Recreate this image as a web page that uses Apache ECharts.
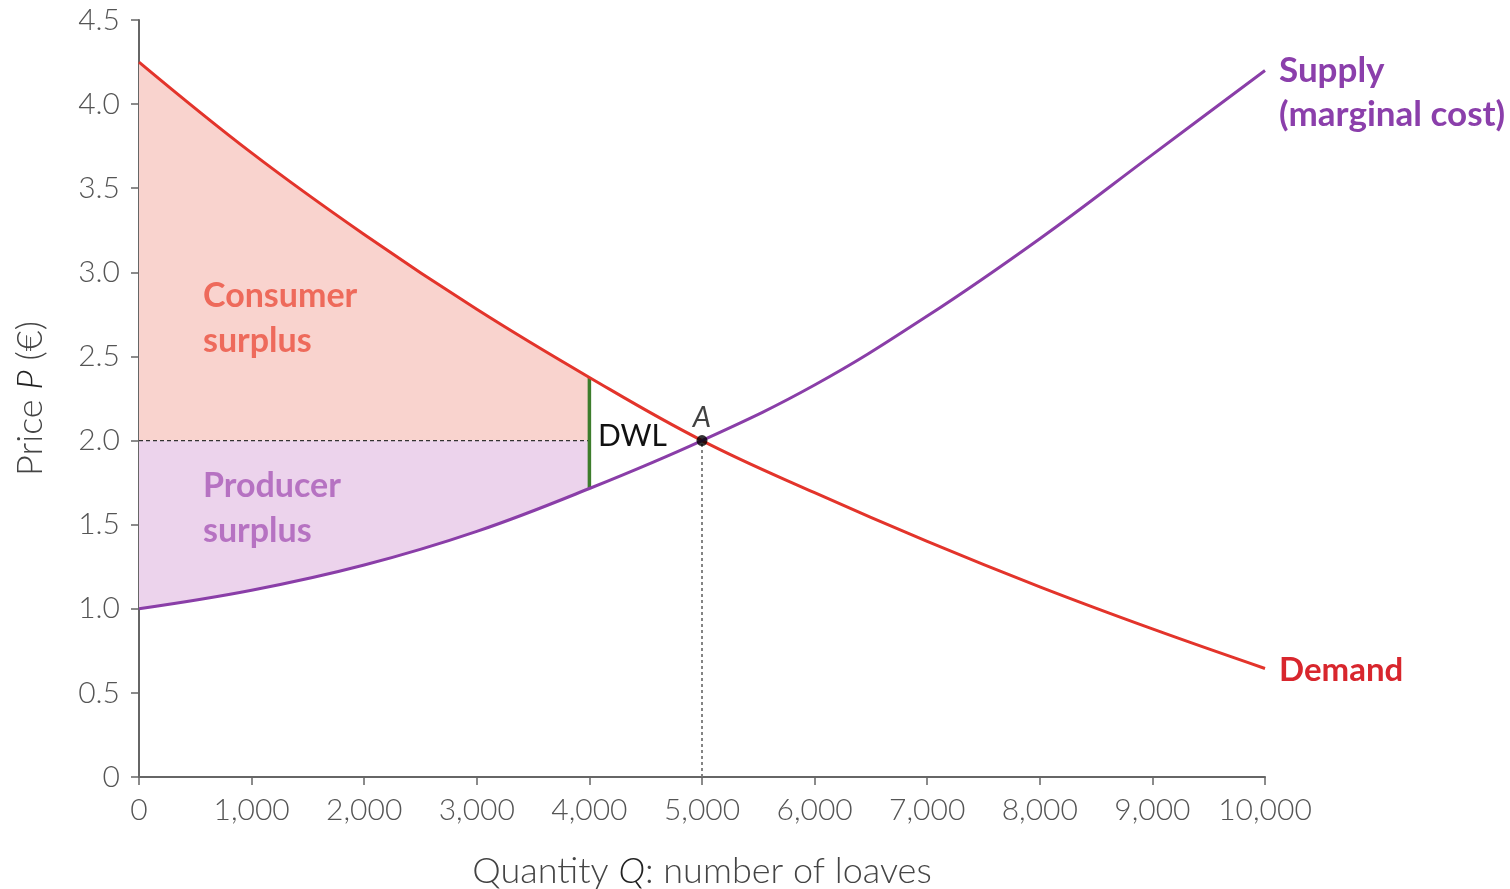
<!DOCTYPE html>
<html>
<head>
<meta charset="utf-8">
<script src="https://cdn.jsdelivr.net/npm/echarts@6/dist/echarts.min.js"></script>
<style>html,body{margin:0;padding:0;background:#fff}#c{width:1510px;height:889px}</style>
</head>
<body>
<div id="c"></div>
<script>
// ---- data ----
const quantities = [0, 1000, 2000, 3000, 4000, 5000, 6000, 7000, 8000, 9000, 10000];
const demandPrice = [4.25, 3.71, 3.225, 2.78, 2.375, 2.0, 1.69, 1.40, 1.13, 0.88, 0.645];
const supplyPrice = [1.0, 1.11, 1.26, 1.46, 1.715, 2.0, 2.33, 2.74, 3.2, 3.7, 4.2];
const marketPrice = 2.0;
const restrictedQ = 4000;
const equilibriumQ = 5000;
const xTicks = [0, 1000, 2000, 3000, 4000, 5000, 6000, 7000, 8000, 9000, 10000];
const yTicks = [0, 0.5, 1.0, 1.5, 2.0, 2.5, 3.0, 3.5, 4.0, 4.5];

const pairs = (xs, ys) => xs.map((x, i) => [x, ys[i]]);
const demandPts = pairs(quantities, demandPrice);
const supplyPts = pairs(quantities, supplyPrice);
const rIdx = quantities.indexOf(restrictedQ);
const demandLeft = demandPts.slice(0, rIdx + 1);
const supplyLeft = supplyPts.slice(0, rIdx + 1);

const RED = '#e3342b', PURPLE = '#8a3ea8', GREEN = '#3d7d2c';
const FONT = 'Lato';

const chart = echarts.init(document.getElementById('c'), null, {renderer: 'canvas'});
const option = {
  animation: false,
  grid: {left: 139, right: 245, top: 20, bottom: 112, containLabel: false, outerBoundsMode: 'none'},
  xAxis: {
    type: 'value', min: xTicks[0], max: xTicks[xTicks.length - 1], interval: 1000,
    name: 'Quantity {i|Q}: number of loaves', nameLocation: 'middle', nameGap: 76,
    nameTextStyle: {fontFamily: FONT, fontSize: 36, color: '#444', fontWeight: 300,
      rich: {i: {fontFamily: FONT, fontSize: 36, fontStyle: 'italic', color: '#222', fontWeight: 300}}},
    axisLine: {show: true, lineStyle: {color: '#666', width: 2}},
    axisTick: {show: true, length: 8, lineStyle: {color: '#666', width: 1.5}},
    axisLabel: {fontFamily: FONT, fontSize: 30, color: '#555', fontWeight: 300, margin: 18,
      formatter: v => v === 0 ? '0' : v.toLocaleString('en-US')},
    splitLine: {show: false}
  },
  yAxis: {
    type: 'value', min: yTicks[0], max: yTicks[yTicks.length - 1], interval: 0.5,
    name: 'Price {i|P} (€)', nameLocation: 'middle', nameGap: 91,
    nameTextStyle: {fontFamily: FONT, fontSize: 36, color: '#444', fontWeight: 300,
      rich: {i: {fontFamily: FONT, fontSize: 36, fontStyle: 'italic', color: '#222', fontWeight: 300}}},
    axisLine: {show: true, lineStyle: {color: '#666', width: 2}},
    axisTick: {show: true, length: 8, lineStyle: {color: '#666', width: 1.5}},
    axisLabel: {fontFamily: FONT, fontSize: 30, color: '#555', fontWeight: 300, margin: 19,
      formatter: v => v === 0 ? '0' : v.toFixed(1)},
    splitLine: {show: false}
  },
  series: [
    {type: 'line', data: demandLeft, smooth: 0.4, symbol: 'none', silent: true,
      lineStyle: {width: 0}, areaStyle: {origin: marketPrice, color: '#f9d3ce', opacity: 1}, z: 1},
    {type: 'line', data: supplyLeft, smooth: 0.4, symbol: 'none', silent: true,
      lineStyle: {width: 0}, areaStyle: {origin: marketPrice, color: '#ecd3ec', opacity: 1}, z: 1},
    {type: 'line', data: [[0, marketPrice], [restrictedQ, marketPrice]], symbol: 'none',
      lineStyle: {color: '#333', width: 1.2, type: [4, 3]}, z: 3},
    {type: 'line', data: [[equilibriumQ, 0], [equilibriumQ, marketPrice]], symbol: 'none',
      lineStyle: {color: '#777', width: 1.8, type: [3, 3]}, z: 3},
    {type: 'line', data: [[restrictedQ, supplyPrice[rIdx]], [restrictedQ, demandPrice[rIdx]]], symbol: 'none',
      lineStyle: {color: GREEN, width: 3.5}, z: 4},
    {type: 'line', data: demandPts, smooth: 0.4, symbol: 'none', lineStyle: {color: RED, width: 3}, z: 5},
    {type: 'line', data: supplyPts, smooth: 0.4, symbol: 'none', lineStyle: {color: PURPLE, width: 3}, z: 5},
    {type: 'scatter', data: [[equilibriumQ, marketPrice]], symbolSize: 11, itemStyle: {color: '#000'}, z: 6,
      label: {show: true, formatter: 'A', position: 'top', distance: 3, fontFamily: FONT, fontSize: 29,
        fontStyle: 'italic', color: '#111'}}
  ],
  graphic: [
    {type: 'text', z: 100, left: 203, top: 274, style: {text: 'Consumer\nsurplus', font: 'bold 34px Lato', fill: '#ee6a5b', lineHeight: 45}},
    {type: 'text', z: 100, left: 203, top: 464, style: {text: 'Producer\nsurplus', font: 'bold 34px Lato', fill: '#b672c2', lineHeight: 45}},
    {type: 'text', z: 100, left: 598, top: 421, style: {text: 'DWL', font: '30px Lato', fill: '#111'}},
    {type: 'text', z: 100, left: 1279, top: 49, style: {text: 'Supply\n(marginal cost)', font: 'bold 35px Lato', fill: '#8b3fab', lineHeight: 44}},
    {type: 'text', z: 100, left: 1279, top: 654, style: {text: 'Demand', font: 'bold 33px Lato', fill: '#d8262d'}}
  ]
};
chart.setOption(option);
</script>
</body>
</html>
